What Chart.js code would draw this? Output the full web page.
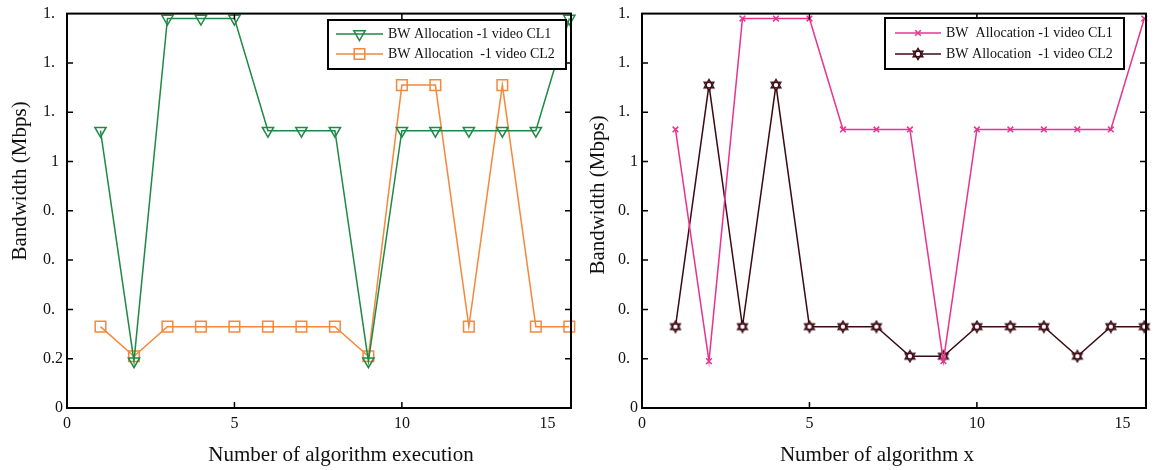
<!DOCTYPE html>
<html><head><meta charset="utf-8">
<script src="https://cdn.jsdelivr.net/npm/chart.js@4/dist/chart.umd.min.js"></script>
<style>
body{margin:0;background:#fff;width:1160px;height:470px;overflow:hidden;position:relative}
canvas{position:absolute;top:0}
</style></head><body>
<canvas id="c1" width="580" height="470" style="left:0"></canvas>
<canvas id="c2" width="580" height="470" style="left:580px"></canvas>
<script>
// ---- data ----
const executions = [1,2,3,4,5,6,7,8,9,10,11,12,13,14,15];
const leftCL1  = [1.125,0.19,1.58,1.58,1.58,1.125,1.125,1.125,0.19,1.125,1.125,1.125,1.125,1.125,1.58];
const leftCL2  = [0.33,0.21,0.33,0.33,0.33,0.33,0.33,0.33,0.21,1.31,1.31,0.33,1.31,0.33,0.33];
const rightCL1 = [1.13,0.19,1.58,1.58,1.58,1.13,1.13,1.13,0.19,1.13,1.13,1.13,1.13,1.13,1.58];
const rightCL2 = [0.33,1.31,0.33,1.31,0.33,0.33,0.33,0.21,0.21,0.33,0.33,0.33,0.21,0.33,0.33];
const leftLegend  = ['BW Allocation -1 video CL1','BW Allocation  -1 video CL2'];
const rightLegend = ['BW  Allocation -1 video CL1','BW Allocation  -1 video CL2'];
const yTickValues = [0,0.2,0.4,0.6,0.8,1.0,1.2,1.4,1.6];
const leftYTickLabels  = ['0','0.2','0.\u2007','0.\u2007','0.\u2007','1\u2008','1.\u2007','1.\u2007','1.\u2007'];
const rightYTickLabels = ['0','0.\u2007','0.\u2007','0.\u2007','0.\u2007','1','1.\u2007','1.\u2007','1.\u2007'];
const xTickValues = [0,5,10,14.35];
const xTickLabels = ['0','5','10','15'];
const xTickMarked = [false,true,true,false];
const yAxisTitle = 'Bandwidth (Mbps)';
const leftXTitle = 'Number of algorithm execution';
const rightXTitle = 'Number of algorithm x';

const FONT = '"Liberation Serif","DejaVu Serif",serif';

// hexagram marker
function hexagram(){
  const c=document.createElement('canvas'); c.width=14; c.height=14;
  const g=c.getContext('2d'); const cx=7, cy=7, r=5.6;
  const tri=(off)=>{g.beginPath();for(let i=0;i<3;i++){const a=(off+i*120)*Math.PI/180;const px=cx+r*Math.cos(a),py=cy+r*Math.sin(a);i?g.lineTo(px,py):g.moveTo(px,py);}g.closePath();};
  g.fillStyle='#fff'; tri(-90); g.fill(); tri(90); g.fill();
  g.strokeStyle='#3c0a14'; g.lineWidth=1.4; tri(-90); g.stroke(); tri(90); g.stroke();
  return c;
}
const hexImg = hexagram();

const framePlugin = {
  id:'frame',
  afterDatasetsDraw(chart){
    const {ctx, chartArea:a, scales:{x,y}} = chart;
    const o = chart.options.plugins.frame;
    ctx.save();
    ctx.strokeStyle='#000'; ctx.lineWidth=2;
    ctx.strokeRect(a.left,a.top,a.right-a.left,a.bottom-a.top);
    ctx.lineWidth=1.5; ctx.beginPath();
    yTickValues.forEach((v,i)=>{ if(i===0||i===yTickValues.length-1) return;
      const py=y.getPixelForValue(v);
      ctx.moveTo(a.left,py); ctx.lineTo(a.left+6,py);
      ctx.moveTo(a.right,py); ctx.lineTo(a.right-6,py);});
    xTickValues.forEach((v,i)=>{ if(!xTickMarked[i]) return;
      const px=x.getPixelForValue(v);
      ctx.moveTo(px,a.bottom); ctx.lineTo(px,a.bottom-6);
      ctx.moveTo(px,a.top); ctx.lineTo(px,a.top+6);});
    ctx.stroke();
    // legend
    const L=o.legend;
    ctx.fillStyle='#fff'; ctx.fillRect(L.x,L.y,L.w,L.h);
    ctx.lineWidth=2; ctx.strokeStyle='#000'; ctx.strokeRect(L.x,L.y,L.w,L.h);
    chart.data.datasets.forEach((ds,i)=>{
      const ry=L.rows[i];
      ctx.strokeStyle=ds.borderColor; ctx.lineWidth=1.5;
      ctx.beginPath(); ctx.moveTo(L.x0,ry); ctx.lineTo(L.x1,ry); ctx.stroke();
      ctx.fillStyle='rgba(0,0,0,0)'; ctx.strokeStyle=ds.borderColor; ctx.lineWidth=ds.pointBorderWidth||1.5;
      Chart.helpers.drawPoint(ctx,{pointStyle:ds.pointStyle,radius:ds.pointRadius,rotation:ds.pointRotation||0,borderWidth:ds.pointBorderWidth||1.5},(L.x0+L.x1)/2,ry);
      ctx.fillStyle='#111'; ctx.font='14px '+FONT; ctx.textBaseline='middle'; ctx.textAlign='left';
      ctx.fillText(L.labels[i],L.tx,ry);
    });
    // axis titles
    ctx.fillStyle='#111'; ctx.font='21px '+FONT; ctx.textAlign='center'; ctx.textBaseline='middle';
    ctx.fillText(o.xTitle,o.xTitlePos[0],o.xTitlePos[1]);
    ctx.save(); ctx.translate(o.yTitlePos[0],o.yTitlePos[1]); ctx.rotate(-Math.PI/2);
    ctx.fillText(yAxisTitle,0,0); ctx.restore();
    ctx.restore();
  }
};

function makeChart(id, datasets, yLabels, padRight, yWidth, frameOpts){
  return new Chart(document.getElementById(id),{
    type:'line',
    data:{datasets},
    options:{
      responsive:false, animation:false,
      layout:{padding:{top:12,right:padRight,left:0,bottom:0}},
      plugins:{legend:{display:false},tooltip:{enabled:false},frame:frameOpts},
      scales:{
        x:{type:'linear',min:0,max:15.05,
          grid:{display:false,drawTicks:false},border:{display:false},
          afterBuildTicks:s=>{s.ticks=xTickValues.map(v=>({value:v}));},
          afterFit:s=>{s.height=62;},
          ticks:{padding:6,color:'#111',font:{family:FONT,size:16},maxRotation:0,autoSkip:false,
            callback:(v,i)=>xTickLabels[i]}},
        y:{type:'linear',min:0,max:1.6,
          grid:{display:false,drawTicks:false},border:{display:false},
          afterBuildTicks:s=>{s.ticks=yTickValues.map(v=>({value:v}));},
          afterFit:s=>{s.width=yWidth;},
          ticks:{padding:4,color:'#111',font:{family:FONT,size:16},autoSkip:false,
            callback:(v,i)=>yLabels[i]}}
      }
    },
    plugins:[framePlugin]
  });
}

const pts = arr => executions.map((e,i)=>({x:e,y:arr[i]}));
const GREEN='#1f8a44', ORANGE='#f5883a', PINK='#e8338f', MAROON='#3c0a14';

makeChart('c1',[
  {data:pts(leftCL1),borderColor:GREEN,backgroundColor:GREEN,borderWidth:1.5,pointStyle:'triangle',pointRotation:180,pointRadius:6.5,pointBorderWidth:1.5,pointBackgroundColor:'rgba(0,0,0,0)',tension:0,clip:false},
  {data:pts(leftCL2),borderColor:ORANGE,backgroundColor:ORANGE,borderWidth:1.5,pointStyle:'rect',pointRadius:7.5,pointBorderWidth:1.5,pointBackgroundColor:'rgba(0,0,0,0)',tension:0,clip:false}
],leftYTickLabels,8,67,{
  legend:{x:328,y:20,w:238,h:49,x0:336,x1:383,tx:388,rows:[34,54],labels:leftLegend},
  xTitle:leftXTitle,xTitlePos:[341,455],yTitlePos:[20,181]
});
makeChart('c2',[
  {data:pts(rightCL1),borderColor:PINK,backgroundColor:PINK,borderWidth:1.5,pointStyle:'crossRot',pointRadius:4,pointBorderWidth:1.5,tension:0,clip:false},
  {data:pts(rightCL2),borderColor:MAROON,backgroundColor:MAROON,borderWidth:1.5,pointStyle:hexImg,pointRadius:6,tension:0,clip:false}
],rightYTickLabels,14,62,{
  legend:{x:305,y:18,w:239,h:51,x0:315,x1:361,tx:366,rows:[33,54],labels:rightLegend},
  xTitle:rightXTitle,xTitlePos:[297,455],yTitlePos:[18,195]
});
</script>
</body></html>
